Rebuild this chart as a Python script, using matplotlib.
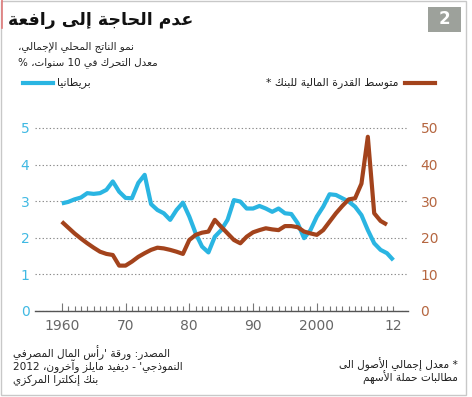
import re
import matplotlib
matplotlib.use("Agg")
import matplotlib.pyplot as plt
from matplotlib.lines import Line2D
from matplotlib.patches import Rectangle

# --- data -------------------------------------------------------------
years_uk = list(range(1960, 2013))
gdp_growth = [2.94, 2.98, 3.05, 3.10, 3.22, 3.20, 3.22, 3.31, 3.54, 3.26,
              3.09, 3.08, 3.50, 3.72, 2.92, 2.76, 2.67, 2.49, 2.76, 2.96,
              2.58, 2.12, 1.76, 1.60, 2.03, 2.21, 2.49, 3.03, 2.99, 2.80,
              2.80, 2.87, 2.80, 2.71, 2.80, 2.67, 2.65, 2.40, 1.99, 2.21,
              2.58, 2.85, 3.19, 3.17, 3.08, 2.99, 2.85, 2.62, 2.21, 1.85,
              1.67, 1.58, 1.39]

years_bank = list(range(1960, 2012))
leverage = [24.4, 22.8, 21.2, 19.8, 18.5, 17.3, 16.2, 15.6, 15.3, 12.4,
            12.4, 13.5, 14.8, 15.8, 16.7, 17.3, 17.1, 16.7, 16.2, 15.6,
            19.4, 20.8, 21.4, 21.7, 24.9, 23.0, 21.2, 19.4, 18.5, 20.3,
            21.5, 22.1, 22.6, 22.3, 22.1, 23.2, 23.2, 22.9, 21.7, 21.2,
            20.8, 22.1, 24.4, 26.7, 28.7, 30.5, 30.8, 34.8, 47.6, 26.7,
            24.6, 23.6]

left_ticks = [0, 1, 2, 3, 4, 5]
right_ticks = [0, 10, 20, 30, 40, 50]
x_ticks = [1960, 1970, 1980, 1990, 2000, 2012]
x_labels = ["1960", "70", "80", "90", "2000", "12"]

title = "عدم الحاجة إلى رافعة"
subtitle = ["نمو الناتج المحلي الإجمالي،", "معدل التحرك في 10 سنوات، %"]
label_uk = "بريطانيا"
label_bank = "متوسط القدرة المالية للبنك *"
source = ["المصدر: ورقة 'رأس المال المصرفي",
          "النموذجي' - ديفيد مايلز وآخرون، 2012",
          "بنك إنكلترا المركزي"]
footnote = ["* معدل إجمالي الأصول الى", "مطالبات حملة الأسهم"]

BLUE = "#2ab5e2"
BROWN = "#a3431c"

# --- simple arabic shaping (presentation forms + right-to-left order) --
_letters = [(0x0621, 1), (0x0622, 2), (0x0623, 2), (0x0624, 2), (0x0625, 2),
            (0x0626, 4), (0x0627, 2), (0x0628, 4), (0x0629, 2), (0x062A, 4),
            (0x062B, 4), (0x062C, 4), (0x062D, 4), (0x062E, 4), (0x062F, 2),
            (0x0630, 2), (0x0631, 2), (0x0632, 2), (0x0633, 4), (0x0634, 4),
            (0x0635, 4), (0x0636, 4), (0x0637, 4), (0x0638, 4), (0x0639, 4),
            (0x063A, 4), (0x0641, 4), (0x0642, 4), (0x0643, 4), (0x0644, 4),
            (0x0645, 4), (0x0646, 4), (0x0647, 4), (0x0648, 2), (0x0649, 2),
            (0x064A, 4)]
FORMS = {}
_code = 0xFE80
for cp, n in _letters:
    FORMS[chr(cp)] = [chr(_code + k) for k in range(n)]
    _code += n
LAM_ALEF = {"\u0622": 0xFEF5, "\u0623": 0xFEF7, "\u0625": 0xFEF9, "\u0627": 0xFEFB}


def shape(text):
    out = []
    prev_joins = False
    i = 0
    while i < len(text):
        c = text[i]
        if c not in FORMS:
            out.append(c)
            prev_joins = False
            i += 1
            continue
        if c == "\u0644" and i + 1 < len(text) and text[i + 1] in LAM_ALEF:
            out.append(chr(LAM_ALEF[text[i + 1]] + (1 if prev_joins else 0)))
            prev_joins = False
            i += 2
            continue
        forms = FORMS[c]
        nxt = text[i + 1] if i + 1 < len(text) else ""
        next_ok = len(forms) == 4 and nxt in FORMS and len(FORMS[nxt]) > 1
        if len(forms) == 1:
            f = forms[0]
        elif prev_joins and next_ok:
            f = forms[3]
        elif prev_joins:
            f = forms[1]
        elif next_ok:
            f = forms[2]
        else:
            f = forms[0]
        out.append(f)
        prev_joins = len(forms) == 4
        i += 1
    runs = re.findall(r"[0-9]+|.", "".join(out))
    return "".join(reversed(runs))


plt.rcParams["font.family"] = ["DejaVu Sans"]

fig = plt.figure(figsize=(4.72, 3.97), dpi=100)
W, H = 472.0, 397.0


def fx(px):
    return px / W


def fy(py):
    return 1 - py / H


# axes: x 35..408 px, y=0 at 311 px, 36.6 px per unit
ax = fig.add_axes([fx(35), fy(311), fx(373), 5.2 * 36.6 / H])
ax.plot(years_uk, gdp_growth, color=BLUE, lw=3, solid_capstyle="butt", zorder=3)
ax.set_xlim(1955.8, 2014.3)
ax.set_ylim(0, 5.2)
ax.set_yticks(left_ticks)
ax.set_yticklabels([str(t) for t in left_ticks])
ax.tick_params(axis="y", length=0, pad=4, labelsize=10, labelcolor="#40b9e3")
ax.grid(axis="y", linestyle=(0, (1.2, 2)), color="#8a8a8a", lw=0.8)
ax.set_xticks(x_ticks)
ax.set_xticklabels(x_labels)
ax.set_xticks(range(1960, 2013), minor=True)
ax.tick_params(axis="x", which="major", direction="in", length=5.5, width=0.8,
               color="#777777", labelsize=10, labelcolor="#666666", pad=6)
ax.tick_params(axis="x", which="minor", direction="in", length=3.5, width=0.8,
               color="#777777")
ax.xaxis.get_major_ticks()[-1].tick1line.set_markersize(3.5)
for s in ["top", "left", "right"]:
    ax.spines[s].set_visible(False)
ax.spines["bottom"].set_color("#555555")
ax.spines["bottom"].set_linewidth(1.0)

ax2 = ax.twinx()
ax2.plot(years_bank, leverage, color=BROWN, lw=3, solid_capstyle="butt", zorder=3)
ax2.set_ylim(0, 52)
ax2.set_yticks(right_ticks)
ax2.set_yticklabels([str(t) for t in right_ticks])
ax2.tick_params(axis="y", length=0, pad=9, labelsize=10, labelcolor="#b56640")
for s in ["top", "left", "right", "bottom"]:
    ax2.spines[s].set_visible(False)

# frame
fig.add_artist(Rectangle((fx(1), fy(395)), fx(465), (394) / H, transform=fig.transFigure,
                         fill=False, edgecolor="#c8c8c8", lw=1))
fig.add_artist(Line2D([fx(1.5), fx(1.5)], [fy(0), fy(28)], transform=fig.transFigure,
                      color="#e07a7a", lw=1.2))

# title + number box
fig.text(fx(8), fy(20), shape(title), fontsize=12.5, fontweight="bold",
         ha="left", va="center", color="#111111")
fig.add_artist(Rectangle((fx(428), fy(32)), fx(33), 25 / H, transform=fig.transFigure,
                         facecolor="#9da19b", edgecolor="none"))
fig.text(fx(444.5), fy(19.5), "2", fontsize=12, fontweight="bold", color="white",
         ha="center", va="center")

# subtitle
fig.text(fx(18), fy(47), shape(subtitle[0]), fontsize=7.5, ha="left", va="center",
         color="#222222")
fig.text(fx(18), fy(63), shape(subtitle[1]), fontsize=7.5, ha="left", va="center",
         color="#222222")

# legend
fig.add_artist(Line2D([fx(23), fx(53)], [fy(83), fy(83)], transform=fig.transFigure,
                      color=BLUE, lw=3))
fig.text(fx(57), fy(83), shape(label_uk), fontsize=7.8, ha="left", va="center",
         color="#222222")
fig.add_artist(Line2D([fx(405), fx(435)], [fy(83), fy(83)], transform=fig.transFigure,
                      color=BROWN, lw=3))
fig.text(fx(399), fy(83), shape(label_bank), fontsize=7.8, ha="right", va="center",
         color="#222222")

# source + footnote
for k, line in enumerate(source):
    fig.text(fx(13), fy(353 + 13.5 * k), shape(line), fontsize=7.6, ha="left",
             va="center", color="#222222")
for k, line in enumerate(footnote):
    fig.text(fx(458), fy(364 + 14 * k), shape(line), fontsize=7.6, ha="right",
             va="center", color="#222222")

fig.savefig("out.png", dpi=100)
